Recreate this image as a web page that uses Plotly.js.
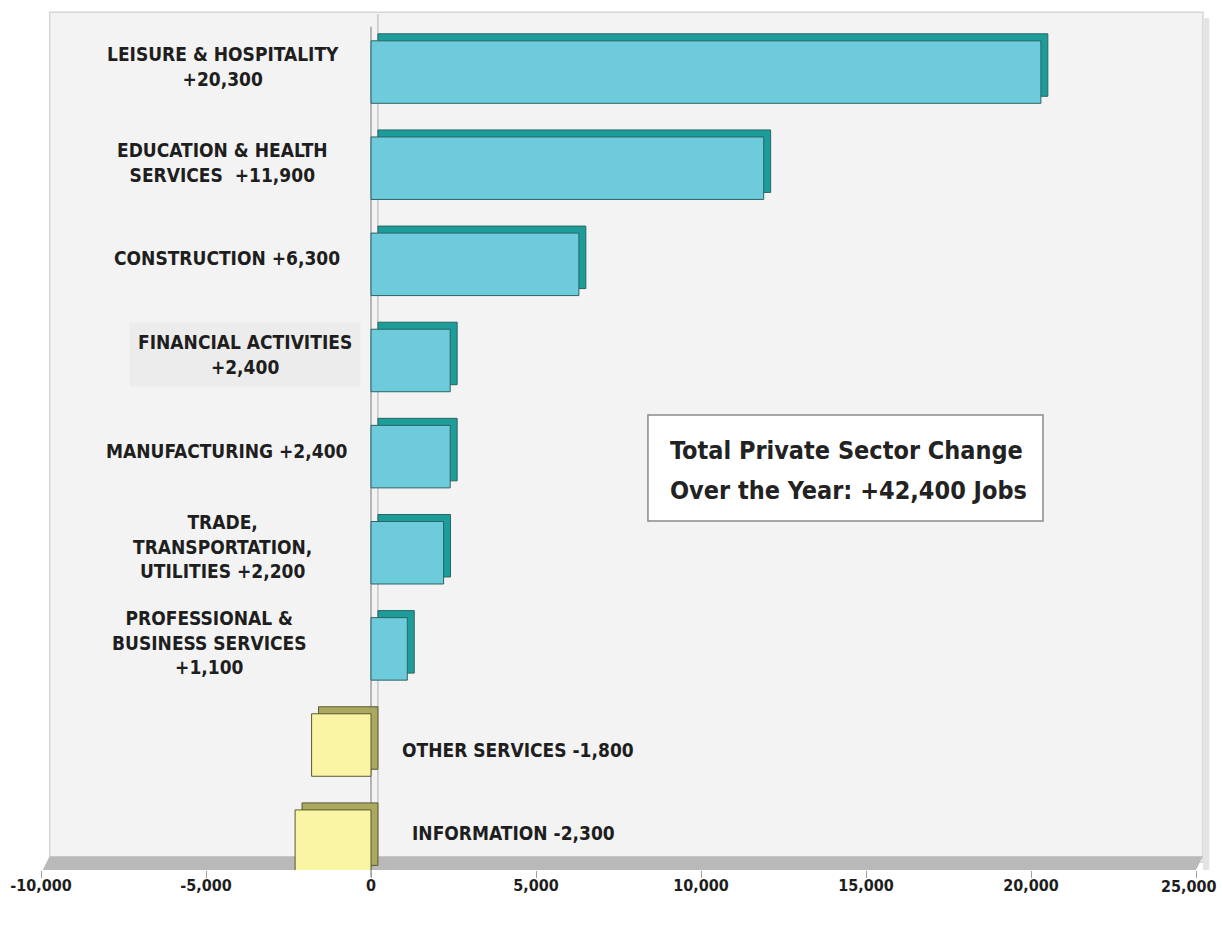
<!DOCTYPE html>
<html>
<head>
<meta charset="utf-8">
<script src="https://cdn.plot.ly/plotly-3.0.1.min.js"></script>
<style>html,body{margin:0;padding:0;background:#fff;}#chart{width:1222px;height:942px;}</style>
</head>
<body>
<div id="chart"></div>
<script>
const categories = ['LEISURE & HOSPITALITY', 'EDUCATION & HEALTH SERVICES', 'CONSTRUCTION', 'FINANCIAL ACTIVITIES', 'MANUFACTURING', 'TRADE, TRANSPORTATION, UTILITIES', 'PROFESSIONAL & BUSINESS SERVICES', 'OTHER SERVICES', 'INFORMATION'];
const values = [20300, 11900, 6300, 2400, 2400, 2200, 1100, -1800, -2300];
const labelTexts = ['LEISURE & HOSPITALITY<br>+20,300', 'EDUCATION & HEALTH<br>SERVICES \u00a0+11,900', 'CONSTRUCTION +6,300', 'FINANCIAL ACTIVITIES<br>+2,400', 'MANUFACTURING +2,400', 'TRADE,<br>TRANSPORTATION,<br>UTILITIES +2,200', 'PROFESSIONAL &<br>BUSINESS SERVICES<br>+1,100', 'OTHER SERVICES -1,800', 'INFORMATION -2,300'];
const tickValues = [-10000, -5000, 0, 5000, 10000, 15000, 20000, 25000];
const tickLabels = ['-10,000', '-5,000', '0', '5,000', '10,000', '15,000', '20,000', '25,000'];
const summaryLines = ['Total Private Sector Change', 'Over the Year: +42,400 Jobs'];

const FONT = '"Liberation Sans Narrow", "Arial Narrow", "DejaVu Sans Condensed", sans-serif';
const DX = 210, DY = 0.073, W = 0.65;
const frontColors = values.map(v => v >= 0 ? '#6dcbdb' : '#f9f5a4');
const depthColors = values.map(v => v >= 0 ? '#1c9d99' : '#aba95f');
const lineColors = values.map(v => v >= 0 ? '#2a6464' : '#5a5830');
// pixel nudges of the category labels, layout only
const labelNudge = {
  'CONSTRUCTION': [4, 6], 'FINANCIAL ACTIVITIES': [22, 6], 'MANUFACTURING': [4, 6],
  'PROFESSIONAL & BUSINESS SERVICES': [-13, 6], 'OTHER SERVICES': [30, -5], 'INFORMATION': [40, 8]
};
const tickFont = {family: FONT, size: 16, weight: 700, color: '#1e1e1e'};
const lastTick = tickLabels.length - 1;

const depth = {
  type: 'bar', orientation: 'h', y: categories, x: values,
  base: values.map(() => DX), width: W, offset: -W / 2 - DY,
  marker: {color: depthColors, line: {color: lineColors, width: 1}},
  hoverinfo: 'skip', showlegend: false
};
const front = {
  type: 'bar', orientation: 'h', y: categories, x: values,
  width: W, offset: -W / 2,
  marker: {color: frontColors, line: {color: lineColors, width: 1}},
  hovertemplate: '%{y}: %{x:,}<extra></extra>', showlegend: false
};

const annotations = categories.map((c, i) => {
  const pos = values[i] >= 0;
  const fin = c === 'FINANCIAL ACTIVITIES';
  const n = labelNudge[c] || [0, 6];
  return {
    x: pos ? -4500 : 0, y: c, xref: 'x', yref: 'y',
    xanchor: pos ? 'center' : 'left', xshift: n[0], yshift: n[1],
    text: labelTexts[i], showarrow: false, align: 'center',
    font: {family: FONT, size: 19, weight: 700, color: '#1e1e1e'},
    bgcolor: fin ? '#ececec' : 'rgba(0,0,0,0)', borderpad: fin ? 8 : 0
  };
});
summaryLines.forEach((t, k) => annotations.push({
  xref: 'paper', yref: 'paper', x: 0.5429, y: k === 0 ? 0.4895 : 0.4439,
  xanchor: 'left', yanchor: 'middle', text: t, showarrow: false, align: 'left',
  font: {family: FONT, size: 25, weight: 700, color: '#222'}
}));
// last tick label kept inside the page edge
annotations.push({
  x: tickValues[lastTick], xref: 'x', y: 0, yref: 'paper', xanchor: 'right', yanchor: 'top',
  xshift: 22, yshift: -6, text: tickLabels[lastTick], showarrow: false, font: tickFont, borderpad: 0
});

const shapes = [
  {type: 'rect', xref: 'paper', yref: 'paper', x0: 0.0075, x1: 1.006, y0: 0.009, y1: 1.002,
   fillcolor: '#f3f3f3', line: {color: '#d6d6d6', width: 1.5}, layer: 'below'},
  {type: 'rect', xref: 'paper', yref: 'paper', x0: 1.006, x1: 1.0115, y0: 0.0, y1: 0.995,
   fillcolor: '#e4e4e4', line: {width: 0}, layer: 'below'},
  {type: 'path', xref: 'paper', yref: 'paper', layer: 'below',
   path: 'M 0.0015 0 L 0.0075 0.016 L 1.006 0.016 L 1.0 0 Z', fillcolor: '#b9b9b9', line: {width: 0}},
  {type: 'line', xref: 'x', yref: 'paper', x0: DX, x1: DX, y0: 0.016, y1: 1.0,
   line: {color: '#b0b0b0', width: 1}, layer: 'below'},
  {type: 'line', xref: 'x', yref: 'paper', x0: 0, x1: 0, y0: -0.008, y1: 0.985,
   line: {color: '#8c8c8c', width: 1.2}, layer: 'below'},
  {type: 'rect', xref: 'paper', yref: 'paper', x0: 0.5255, x1: 0.8675, y0: 0.4077, y1: 0.5315,
   fillcolor: '#ffffff', line: {color: '#8a8a8a', width: 1.5}, layer: 'above'}
];

const layout = {
  width: 1222, height: 942,
  margin: {l: 41, r: 26, t: 14, b: 72},
  paper_bgcolor: '#ffffff', plot_bgcolor: 'rgba(0,0,0,0)',
  barmode: 'overlay',
  xaxis: {range: [-10000, 25000], tickvals: tickValues,
    ticktext: tickLabels.map((t, i) => i === lastTick ? '' : t),
    showgrid: false, zeroline: false, showline: false,
    ticks: 'outside', ticklen: 7, tickcolor: '#a0a0a0', tickwidth: 1,
    ticklabeloverflow: 'allow', ticklabelstandoff: -6, tickfont: tickFont},
  yaxis: {type: 'category', categoryorder: 'array', categoryarray: categories,
    range: [8.3, -0.604], showgrid: false, zeroline: false, showline: false,
    showticklabels: false, ticks: ''},
  annotations: annotations, shapes: shapes
};

Plotly.newPlot('chart', [depth, front], layout, {displayModeBar: false, staticPlot: true});
</script>
</body>
</html>
